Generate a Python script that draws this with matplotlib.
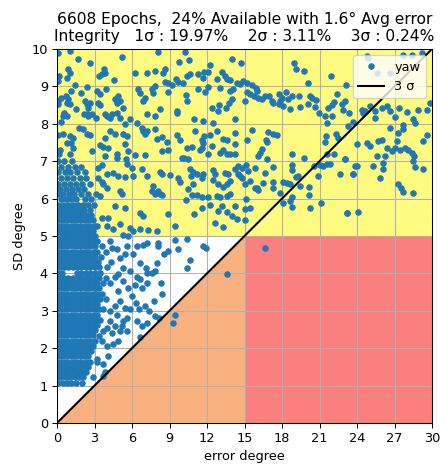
import matplotlib
matplotlib.use("Agg")
import matplotlib.pyplot as plt

# ---------------- data ----------------
title_line1 = "6608 Epochs,  24% Available with 1.6° Avg error"
title_line2 = "Integrity   1σ : 19.97%    2σ : 3.11%    3σ : 0.24%"
x_label = "error degree"
y_label = "SD degree"
x_ticks = [0, 3, 6, 9, 12, 15, 18, 21, 24, 27, 30]
y_ticks = [0, 1, 2, 3, 4, 5, 6, 7, 8, 9, 10]
series_label = "yaw"
line_label = "3 σ"
sigma_line_err = [0, 30]
sigma_line_sd = [0, 10]

# dense core of epochs (rows of SD level -> error values)
core_sd = [1.08, 1.22, 1.36, 1.50, 1.64, 1.78, 1.92, 2.06, 2.20, 2.34, 2.48, 2.62,
           2.76, 2.90, 3.04, 3.18, 3.32, 3.46, 3.60, 3.74, 3.88, 4.02, 4.16, 4.30,
           4.44, 4.58, 4.72, 4.86, 5.00, 5.14, 5.28, 5.42, 5.56, 5.70, 5.84, 5.98,
           6.12, 6.26, 6.40, 6.55, 6.70, 6.85, 7.00]
core_err = [
    [0.1, 0.45, 0.8, 1.15, 1.5, 1.97],
    [0.05, 0.35, 0.7, 1.05, 1.4, 1.75, 2.1, 2.9],
    [0.2, 0.55, 0.9, 1.25, 1.6, 1.95, 2.3, 3.84],
    [0.05, 0.4, 0.75, 1.1, 1.45, 1.8, 2.15, 2.5],
    [0.2, 0.55, 0.9, 1.25, 1.6, 1.95, 2.3, 2.6, 3.17],
    [0.05, 0.4, 0.75, 1.1, 1.45, 1.8, 2.15, 2.5, 4.11],
    [0.2, 0.55, 0.9, 1.25, 1.6, 1.95, 2.3, 2.7],
    [0.05, 0.4, 0.75, 1.1, 1.45, 1.8, 2.15, 2.5, 2.85],
    [0.2, 0.55, 0.9, 1.25, 1.6, 1.95, 2.3, 2.65, 3.0],
    [0.05, 0.4, 0.75, 1.1, 1.45, 1.8, 2.15, 2.5, 2.85],
    [0.2, 0.55, 0.9, 1.25, 1.6, 1.95, 2.3, 2.65, 3.0],
    [0.05, 0.4, 0.75, 1.1, 1.45, 1.8, 2.15, 2.5, 2.85, 3.2],
    [0.2, 0.55, 0.9, 1.25, 1.6, 1.95, 2.3, 2.65, 3.0, 3.4],
    [0.05, 0.4, 0.75, 1.1, 1.45, 1.8, 2.15, 2.5, 2.85, 3.2],
    [0.2, 0.55, 0.9, 1.25, 1.6, 1.95, 2.3, 2.65, 3.0, 3.35, 3.7],
    [0.05, 0.4, 0.75, 1.1, 1.45, 1.8, 2.15, 2.5, 2.85, 3.2],
    [0.2, 0.55, 0.9, 1.25, 1.6, 1.95, 2.3, 2.65, 3.0, 3.4, 3.9],
    [0.05, 0.4, 0.75, 1.1, 1.45, 1.8, 2.15, 2.5, 2.85, 3.2, 3.6],
    [0.2, 0.55, 0.9, 1.25, 1.6, 1.95, 2.3, 2.65, 3.0, 3.35],
    [0.05, 0.4, 0.75, 1.1, 1.45, 1.8, 2.15, 2.5, 2.85, 3.2, 3.7, 4.2],
    [0.2, 0.55, 0.9, 1.25, 1.6, 1.95, 2.3, 2.65, 3.0, 3.35, 3.9],
    [0.05, 0.4, 1.6, 1.95, 2.3, 2.65, 3.0, 3.4],
    [0.2, 0.55, 0.9, 1.25, 1.6, 1.95, 2.3, 2.65, 3.0, 3.35, 4.0],
    [0.05, 0.4, 0.75, 1.1, 1.45, 1.8, 2.15, 2.5, 2.85, 3.3, 4.3],
    [0.2, 0.55, 0.9, 1.25, 1.6, 1.95, 2.3, 2.65, 3.0, 3.5],
    [0.05, 0.4, 0.75, 1.1, 1.45, 1.8, 2.15, 2.5, 2.85, 3.2, 3.9],
    [0.2, 0.55, 0.9, 1.25, 1.6, 1.95, 2.3, 2.65, 3.0, 3.6],
    [0.05, 0.4, 0.75, 1.1, 1.45, 1.8, 2.15, 2.5, 2.85, 3.2, 4.2],
    [0.2, 0.55, 0.9, 1.25, 1.6, 1.95, 2.3, 2.65, 3.0],
    [0.05, 0.4, 0.75, 1.1, 1.45, 1.8, 2.15, 2.5, 2.85],
    [0.2, 0.55, 0.9, 1.25, 1.6, 1.95, 2.3, 2.65, 3.0],
    [0.05, 0.4, 0.75, 1.1, 1.45, 1.8, 2.15, 2.5, 2.85],
    [0.2, 0.55, 0.9, 1.25, 1.6, 1.95, 2.3, 2.7],
    [0.05, 0.4, 0.75, 1.1, 1.45, 1.8, 2.15, 2.6],
    [0.1, 0.5, 0.85, 1.3, 1.7, 2.05, 2.5, 2.95],
    [0.3, 0.7, 1.1, 1.55, 2.25, 2.7],
    [0.05, 0.5, 0.95, 1.35, 1.9, 2.45, 3.1],
    [0.25, 0.75, 1.2, 1.65, 2.15],
    [0.05, 0.55, 1.0, 1.5, 2.0, 2.6],
    [0.3, 0.8, 1.3, 1.85, 2.35],
    [0.1, 0.6, 1.05, 1.6, 2.2],
    [0.35, 0.85, 1.4, 1.95],
    [0.1, 0.55, 1.2],
]

# scattered epochs (error, SD)
pts_top_left = [
    (1.0, 9.95), (1.71, 9.74), (2.61, 9.62), (5.23, 9.79), (0.85, 9.47), (1.07, 9.37),
    (0.16, 9.28), (0.8, 9.23), (3.39, 9.28), (3.76, 9.47), (3.84, 9.37), (3.57, 9.32),
    (4.56, 9.17), (6.24, 9.37), (7.17, 9.37), (7.84, 9.41), (1.12, 8.89), (1.44, 9.03),
    (1.92, 8.83), (2.37, 8.99), (3.23, 8.88), (3.44, 8.79), (3.92, 8.92), (0.29, 8.70),
    (0.91, 8.65), (0.72, 8.74), (0.11, 8.52), (0.83, 8.56), (1.04, 8.52), (1.52, 8.40),
    (2.24, 8.61), (2.43, 8.52), (2.64, 8.55), (2.51, 8.43), (3.31, 8.56), (3.44, 8.49),
    (4.64, 8.65), (4.91, 8.74), (5.04, 8.61), (4.77, 8.56), (5.31, 8.43), (6.51, 8.92),
    (6.64, 8.83), (6.91, 8.61), (7.04, 8.70), (7.57, 8.94), (7.84, 9.01), (7.65, 8.83),
    (0.59, 8.30), (0.77, 8.21), (0.51, 8.21), (2.19, 8.25), (2.37, 8.25), (2.51, 8.21),
    (2.77, 8.25), (3.09, 8.16), (3.84, 8.25), (3.97, 8.21), (4.24, 8.16), (4.37, 8.25),
    (4.77, 8.30), (5.04, 8.16), (5.44, 7.99), (5.84, 8.14), (6.37, 8.03), (7.17, 8.25),
    (7.84, 8.21), (0.51, 7.72), (1.04, 7.67), (1.31, 7.63), (1.79, 7.90), (2.11, 7.85),
    (2.37, 7.74), (2.64, 7.69), (3.84, 7.63), (4.24, 7.81), (4.64, 7.72), (5.31, 7.72),
    (5.57, 7.67), (6.77, 7.90), (6.91, 7.81), (7.17, 7.81), (7.04, 7.72), (7.84, 7.85),
    (0.05, 9.9), (0.1, 9.15), (0.05, 8.62), (0.3, 8.05), (0.05, 7.7), (0.2, 7.3), (0.8, 7.5),
]
pts_top_mid = [
    (8.05, 9.92), (10.24, 9.92), (9.79, 9.65), (10.56, 9.71), (12.24, 9.57), (14.03, 9.74),
    (14.72, 9.62), (8.64, 9.46), (8.51, 9.37), (10.64, 9.32), (10.37, 9.28), (11.31, 9.32),
    (11.79, 9.38), (12.11, 9.38), (11.65, 9.23), (12.77, 9.19), (13.17, 9.38), (13.44, 9.28),
    (13.57, 9.21), (13.84, 9.17), (14.43, 9.10), (14.64, 9.06), (14.91, 9.14), (15.17, 9.10),
    (15.57, 9.03), (8.64, 9.12), (8.91, 9.08), (9.17, 9.03), (9.52, 9.19), (9.71, 9.12),
    (10.11, 9.08), (11.25, 8.92), (11.84, 8.85), (12.11, 8.99), (13.04, 8.97), (13.84, 8.88),
    (14.11, 8.92), (15.17, 8.85), (15.44, 8.79), (15.79, 8.74), (8.85, 8.85), (10.32, 8.76),
    (10.43, 8.61), (13.97, 8.65), (13.76, 8.56), (12.99, 8.49), (12.37, 8.43), (12.91, 8.34),
    (13.52, 8.43), (15.04, 8.61), (8.24, 8.40), (9.57, 8.34), (9.57, 8.28), (10.99, 8.12),
    (11.71, 8.07), (12.51, 8.03), (14.24, 8.12), (15.57, 7.83), (8.37, 7.66), (9.57, 7.69),
    (9.84, 7.58), (11.04, 7.81), (11.79, 7.67), (11.57, 7.58), (12.24, 7.69), (12.77, 7.81),
    (13.31, 7.60), (13.57, 7.57), (14.24, 7.75), (15.17, 7.58), (7.97, 7.60),
]
pts_top_right = [
    (18.99, 9.62), (19.09, 9.47), (19.79, 9.41), (21.92, 9.28), (20.11, 9.08), (23.09, 9.03),
    (15.89, 8.97), (15.97, 8.88), (16.11, 8.70), (16.37, 8.67), (16.64, 8.73), (16.96, 8.73),
    (17.17, 8.61), (17.31, 8.56), (17.76, 8.79), (17.97, 8.70), (18.29, 8.85), (17.84, 8.61),
    (17.76, 8.52), (18.11, 8.48), (18.64, 8.39), (18.45, 8.65), (18.77, 8.74), (19.36, 8.73),
    (19.44, 8.45), (20.11, 8.52), (20.24, 8.74), (20.43, 8.70), (20.69, 8.64), (20.64, 8.46),
    (20.96, 8.30), (21.44, 8.21), (21.57, 8.03), (21.65, 8.43), (22.03, 8.49), (22.19, 8.58),
    (22.43, 8.79), (22.03, 8.21), (22.83, 8.52), (23.04, 8.61), (22.91, 8.37), (23.36, 8.30),
    (23.31, 7.94), (23.71, 8.05), (16.91, 7.78), (17.31, 7.72), (17.57, 7.69), (16.69, 7.58),
    (21.49, 7.67), (22.29, 7.72), (22.45, 7.63),
]
pts_far_right = [
    (24.77, 9.81), (27.71, 9.85), (28.37, 9.84), (25.6, 9.35), (26.6, 9.35), (29.86, 8.56),
    (24.9, 9.77), (29.2, 9.9), (24.37, 8.38), (24.51, 8.29), (24.65, 8.35), (25.04, 8.47),
    (25.44, 8.34), (25.97, 8.43), (26.37, 8.47), (26.64, 8.34), (27.04, 8.18), (27.39, 8.43),
    (27.97, 8.32), (28.45, 8.12), (28.91, 8.38), (29.57, 8.38), (28.64, 8.03), (27.71, 7.98),
    (25.44, 8.16), (26.64, 7.89), (27.31, 7.76), (27.17, 7.55), (27.04, 7.36), (27.71, 7.85),
    (29.31, 7.53), (29.57, 7.71), (24.77, 7.49), (25.04, 7.40), (25.71, 7.54), (25.97, 7.58),
    (26.37, 7.36), (25.57, 7.14), (26.24, 7.14), (26.77, 7.27), (27.44, 7.31), (27.84, 7.36),
    (28.11, 7.31), (28.37, 7.22), (28.56, 7.14), (28.45, 7.00), (23.97, 7.45), (23.04, 7.05),
    (23.97, 6.87), (25.31, 6.87), (26.11, 6.96), (26.11, 6.78), (25.84, 6.56), (27.31, 6.38),
    (27.49, 6.29), (27.71, 6.18), (28.45, 6.16), (28.64, 6.84), (29.31, 6.78), (23.71, 6.65),
    (23.17, 5.62), (24.11, 5.65),
]
pts_mid_left = [
    (1.12, 7.50), (1.31, 7.34), (1.04, 7.20), (2.77, 7.27), (3.44, 7.43), (3.71, 7.38),
    (4.11, 7.36), (3.84, 7.14), (4.77, 7.18), (4.77, 7.09), (5.44, 7.45), (5.71, 7.27),
    (6.24, 7.17), (7.04, 7.17), (5.49, 7.05), (5.57, 6.92), (5.97, 6.83), (0.16, 7.20),
    (3.31, 6.83), (3.57, 6.90), (3.97, 6.65), (4.51, 6.69), (4.91, 6.60), (5.44, 6.58),
    (6.11, 6.60), (3.31, 6.56), (3.57, 6.45), (3.71, 6.38), (3.97, 6.29), (5.04, 6.20),
    (5.17, 6.11), (6.77, 6.78), (7.17, 6.60), (7.71, 6.34), (7.57, 6.20), (7.84, 6.13),
    (3.44, 6.07), (4.64, 5.80), (5.44, 5.76), (6.64, 5.62), (6.91, 5.53), (3.57, 5.49),
    (4.11, 5.49), (3.97, 5.27), (4.51, 5.18), (5.04, 5.31), (5.84, 5.22), (6.11, 5.13),
    (6.64, 5.18), (7.31, 5.15), (5.31, 5.04), (3.17, 5.27),
]
pts_mid_center = [
    (8.77, 7.52), (8.91, 7.29), (8.37, 7.27), (10.37, 7.36), (10.77, 7.38), (11.57, 7.36),
    (11.71, 7.50), (11.44, 7.29), (12.11, 7.20), (12.37, 7.41), (13.04, 7.23), (13.31, 7.29),
    (13.57, 7.18), (13.84, 7.20), (14.24, 7.45), (14.24, 7.20), (15.09, 6.90), (14.83, 6.81),
    (14.51, 6.87), (9.97, 7.09), (10.19, 7.09), (10.51, 7.05), (10.64, 6.78), (10.91, 6.72),
    (10.72, 6.60), (11.17, 6.65), (11.71, 6.65), (12.51, 6.76), (12.64, 6.65), (13.44, 6.69),
    (13.71, 6.67), (14.24, 6.78), (14.51, 6.65), (14.64, 6.60), (14.77, 6.54), (15.31, 6.74),
    (15.84, 6.81), (8.27, 6.72), (8.37, 6.65), (9.04, 6.63), (9.71, 6.56), (9.84, 6.45),
    (11.57, 6.54), (12.51, 6.49), (10.91, 6.38), (12.91, 6.38), (13.31, 6.31), (13.57, 6.40),
    (13.84, 6.47), (15.04, 6.40), (15.44, 6.47), (15.84, 6.29), (10.51, 6.25), (10.77, 6.10),
    (11.17, 6.10), (11.57, 6.04), (12.11, 6.03), (12.77, 6.07), (13.04, 6.03), (13.57, 6.07),
    (13.84, 6.11), (8.05, 6.19), (8.24, 6.11), (8.37, 6.09), (15.09, 5.98), (10.32, 5.95),
    (12.24, 5.83), (13.17, 5.80), (14.24, 5.80), (15.04, 5.71), (15.44, 5.76), (8.85, 5.58),
    (10.99, 5.58), (11.57, 5.76), (12.91, 5.67), (13.57, 5.64), (13.97, 5.53), (14.37, 5.45),
    (12.64, 5.36), (13.31, 5.24), (9.44, 5.27), (7.97, 5.13), (15.04, 5.42),
]
pts_mid_right = [
    (16.77, 7.52), (16.43, 7.32), (16.24, 7.23), (16.11, 7.14), (16.77, 7.05), (18.77, 7.18),
    (19.79, 7.09), (21.44, 7.52), (21.57, 7.20), (22.19, 7.20), (23.04, 7.05), (23.84, 6.87),
    (23.71, 6.65), (22.64, 6.67), (20.59, 6.87), (21.04, 6.90), (21.31, 6.87), (21.57, 6.92),
    (21.84, 6.93), (18.83, 6.90), (18.77, 6.76), (17.31, 6.84), (16.64, 6.68), (19.09, 6.58),
    (19.31, 6.60), (20.85, 6.60), (16.51, 6.43), (17.31, 6.45), (17.31, 6.29), (18.11, 6.45),
    (18.37, 6.43), (18.64, 6.38), (19.44, 6.35), (20.19, 6.32), (15.97, 6.29), (16.11, 6.22),
    (17.84, 6.16), (20.19, 6.10), (18.77, 6.04), (18.64, 5.94), (18.11, 5.89), (18.77, 5.78),
    (21.12, 5.89), (20.24, 5.74), (23.17, 5.62),
]
pts_lower = [
    (5.71, 5.0), (8.11, 4.82), (8.1, 4.72), (9.44, 4.88), (10.37, 4.93), (9.71, 4.64),
    (11.71, 4.73), (11.92, 4.67), (10.37, 4.15), (10.64, 4.35), (8.91, 4.6), (8.56, 4.51),
    (7.97, 4.28), (7.84, 4.06), (7.57, 4.02), (7.12, 4.15), (7.2, 4.0), (6.64, 3.84),
    (6.4, 3.9), (6.24, 3.70), (6.77, 3.61), (7.17, 3.75), (8.29, 3.75), (8.37, 3.44),
    (7.76, 3.26), (7.04, 3.12), (7.39, 2.99), (6.59, 3.04), (5.84, 3.04), (6.3, 3.2),
    (5.97, 3.39), (7.84, 2.86), (8.19, 2.81), (7.17, 2.68), (6.77, 2.59), (6.37, 2.72),
    (5.57, 2.81), (5.31, 2.72), (5.17, 2.59), (5.63, 2.46), (5.04, 2.46), (4.64, 2.59),
    (4.24, 2.72), (4.91, 2.19), (4.45, 2.10), (3.97, 2.06), (3.57, 2.19), (3.71, 2.46),
    (3.39, 2.32), (3.71, 1.57), (3.17, 1.70), (3.71, 1.25), (6.64, 2.3),
    (6.64, 4.28), (6.1, 4.51), (6.37, 4.73), (6.91, 4.77), (7.17, 4.82), (5.57, 4.73),
    (5.44, 4.51), (5.04, 4.42), (4.77, 4.64), (4.37, 4.68), (5.84, 4.06), (5.31, 4.15),
    (4.91, 3.99), (4.6, 3.9), (5.31, 3.79), (5.71, 3.61), (4.91, 3.52), (5.04, 3.26),
    (4.64, 3.12), (5.44, 3.08), (4.77, 2.9), (4.24, 2.99), (3.97, 2.55), (4.37, 2.41),
    (9.31, 2.68), (9.44, 2.90), (13.57, 3.99), (16.64, 4.67),
]

# ---------------- plot ----------------
DPI = 93
fig = plt.figure(figsize=(446 / DPI, 466 / DPI), dpi=DPI)
ax = fig.add_axes([57 / 446, 43 / 466, 375 / 446, 374 / 466])

# background zones
ax.fill([0, 30, 30, 0], [5, 5, 10, 10], color="#FFFA80", lw=0, zorder=1)
ax.fill([0, 15, 15], [0, 0, 5], color="#F9B07F", lw=0, zorder=1)
ax.fill([15, 30, 30, 15], [0, 0, 5, 5], color="#FA8080", lw=0, zorder=1)

err_vals = []
sd_vals = []
for lvl, row in zip(core_sd, core_err):
    for e in row:
        err_vals.append(e)
        sd_vals.append(lvl)
for group in (pts_top_left, pts_top_mid, pts_top_right, pts_far_right,
              pts_mid_left, pts_mid_center, pts_mid_right, pts_lower):
    for e, s in group:
        err_vals.append(e)
        sd_vals.append(s)

ax.plot(err_vals, sd_vals, "o", color="#1f77b4", ms=4.2, mew=0.8,
        label=series_label, zorder=2.5)
ax.plot(sigma_line_err, sigma_line_sd, "-", color="black", lw=1.6,
        label=line_label, zorder=3)

ax.set_xlim(0, 30)
ax.set_ylim(0, 10)
ax.set_xticks(x_ticks)
ax.set_yticks(y_ticks)
ax.grid(True, color="#b0b0b0", lw=0.8)
ax.set_xlabel(x_label)
ax.set_ylabel(y_label)
ax.set_title(title_line1 + "\n" + title_line2, fontsize=12)
ax.legend(loc="upper right")

fig.savefig("out.png", dpi=DPI)
